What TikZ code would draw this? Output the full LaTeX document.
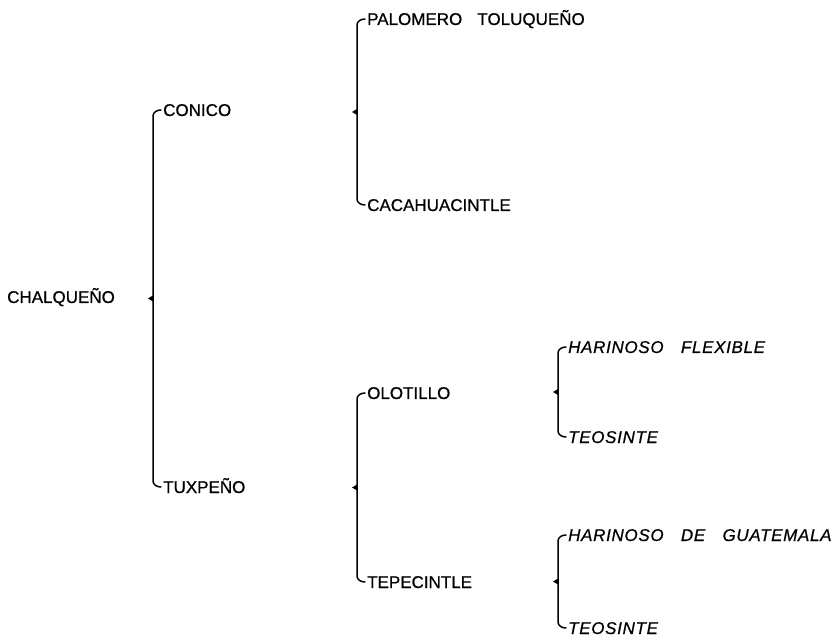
\documentclass[tikz,border=0pt]{standalone}
\usepackage{fontspec}
\setmainfont[WordSpace=3.2,
  UprightFeatures={FakeBold=0.7},
  ItalicFeatures={FakeBold=0.7, LetterSpace=4}]{Liberation Sans}
\usetikzlibrary{calc}
\tikzset{
  race/.style={anchor=west, inner sep=0pt, text height=12pt, text depth=0pt,
    font=\fontsize{17}{17}\selectfont},
  wild/.style={race, font=\fontsize{17}{17}\selectfont\itshape},
  brace/.style={line width=1.5pt, line cap=round}
}
% bracket from the parent to two children (a above, b below)
\newcommand{\bracket}[2]{%
  \draw[brace] ([xshift=-2pt]#1.west) to[out=180,in=90] ([xshift=-10pt,yshift=-6pt]#1.west)
    -- ([xshift=-10pt,yshift=6pt]#2.west) to[out=-90,in=180] ([xshift=-2pt]#2.west);
  \coordinate (m) at ($(#1.west)!0.5!(#2.west)$);
  \fill ([xshift=-10pt,yshift=3pt]m) -- ([xshift=-15pt]m) -- ([xshift=-10pt,yshift=-3pt]m) -- cycle;
}
\begin{document}
\begin{tikzpicture}[x=1pt,y=-1pt]
\useasboundingbox (0,0) rectangle (839,639);
\node[race] (chal) at (7,297) {CHALQUEÑO};
\node[race] (conico) at (163,110) {CONICO};
\node[race] (tuxpeno) at (163,487) {TUXPEÑO};
\node[race] (palomero) at (367,19) {PALOMERO TOLUQUEÑO};
\node[race] (cacahua) at (367,205) {CACAHUACINTLE};
\node[race] (olotillo) at (367,393) {OLOTILLO};
\node[race] (tepecintle) at (367,582) {TEPECINTLE};
\node[wild] (harflex) at (568,347) {HARINOSO FLEXIBLE};
\node[wild] (teoa) at (568,437) {TEOSINTE};
\node[wild] (hargua) at (568,535) {HARINOSO DE GUATEMALA};
\node[wild] (teob) at (568,628) {TEOSINTE};
\bracket{conico}{tuxpeno}
\bracket{palomero}{cacahua}
\bracket{olotillo}{tepecintle}
\bracket{harflex}{teoa}
\bracket{hargua}{teob}
\end{tikzpicture}
\end{document}
